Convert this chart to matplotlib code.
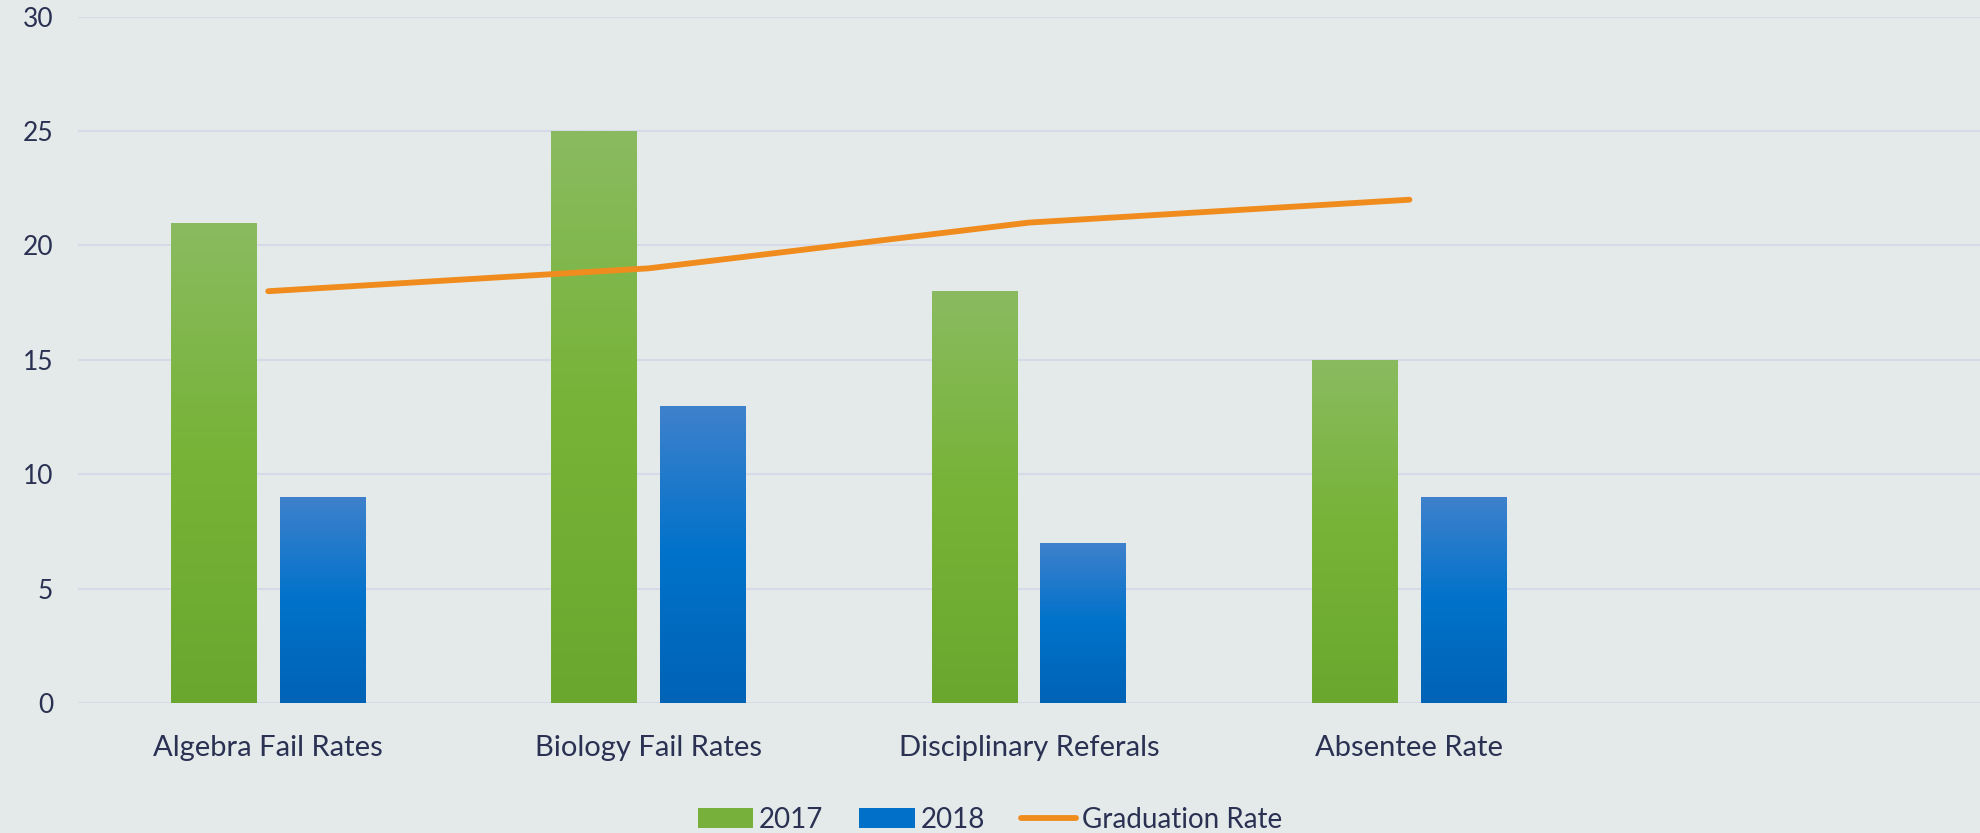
import matplotlib
matplotlib.use("Agg")
import matplotlib.pyplot as plt
import numpy as np
from matplotlib.patches import Patch
from matplotlib.lines import Line2D
from matplotlib.colors import LinearSegmentedColormap

categories = ["Algebra Fail Rates", "Biology Fail Rates", "Disciplinary Referals", "Absentee Rate", ""]
vals_2017 = [21, 25, 18, 15]
vals_2018 = [9, 13, 7, 9]
grad_rate = [18, 19, 21, 22]
yticks = [0, 5, 10, 15, 20, 25, 30]

BG = "#e4eaea"
TXT = "#2a3152"
GRID = "#d5d9e8"
plt.rcParams['font.family'] = ['Lato', 'DejaVu Sans']

fig = plt.figure(figsize=(19.8, 8.33), dpi=100)
fig.patch.set_facecolor(BG)
ax = fig.add_axes([0.0394, 0.156, 0.9606, 0.824])
ax.set_facecolor(BG)

x = np.arange(len(categories))
w = 0.2255
off = 0.1426
n = len(vals_2017)
b1 = ax.bar(x[:n] - off, vals_2017, width=w, color="#78b03c", zorder=2)
b2 = ax.bar(x[:n] + off, vals_2018, width=w, color="#0070c8", zorder=2)

green_cmap = LinearSegmentedColormap.from_list("g", ["#6aa72f", "#76b336", "#8abb60"])
blue_cmap = LinearSegmentedColormap.from_list("b", ["#0063b6", "#0072ca", "#3f81cc"])
grad = np.linspace(0, 1, 256).reshape(-1, 1)
for bars, cmap in ((b1, green_cmap), (b2, blue_cmap)):
    for bar in bars:
        x0, y0 = bar.get_x(), bar.get_y()
        bw, bh = bar.get_width(), bar.get_height()
        im = ax.imshow(grad, cmap=cmap, origin="lower", aspect="auto",
                       extent=[x0, x0 + bw, y0, y0 + bh], zorder=2.5)
        im.set_clip_path(bar)

ax.plot(x[:len(grad_rate)], grad_rate, color="#f08c1e", lw=4.2,
        solid_capstyle="round", zorder=3)

ax.set_xlim(-0.5, len(categories) - 0.5)
ax.set_ylim(0, 30)
ax.set_yticks(yticks)
ax.set_xticks(x)
ax.set_xticklabels(categories)
ax.yaxis.grid(True, color=GRID, lw=1.5, zorder=0)
ax.set_axisbelow(True)
for s in ax.spines.values():
    s.set_visible(False)
ax.tick_params(axis="both", length=0, colors=TXT)
ax.tick_params(axis="y", labelsize=19, pad=18)
ax.tick_params(axis="x", labelsize=21, pad=23)

handles = [Patch(facecolor="#78b03c", label="2017"),
           Patch(facecolor="#0070c8", label="2018"),
           Line2D([0], [0], color="#f08c1e", lw=4.2, solid_capstyle="round", label="Graduation Rate")]
leg = fig.legend(handles=handles, loc="lower center", bbox_to_anchor=(0.5, -0.03), ncol=3,
                 frameon=False, fontsize=20, handlelength=2.0, handleheight=0.75,
                 handletextpad=0.2, columnspacing=1.3)
for t in leg.get_texts():
    t.set_color(TXT)

fig.savefig("out.png", dpi=100, facecolor=BG)
